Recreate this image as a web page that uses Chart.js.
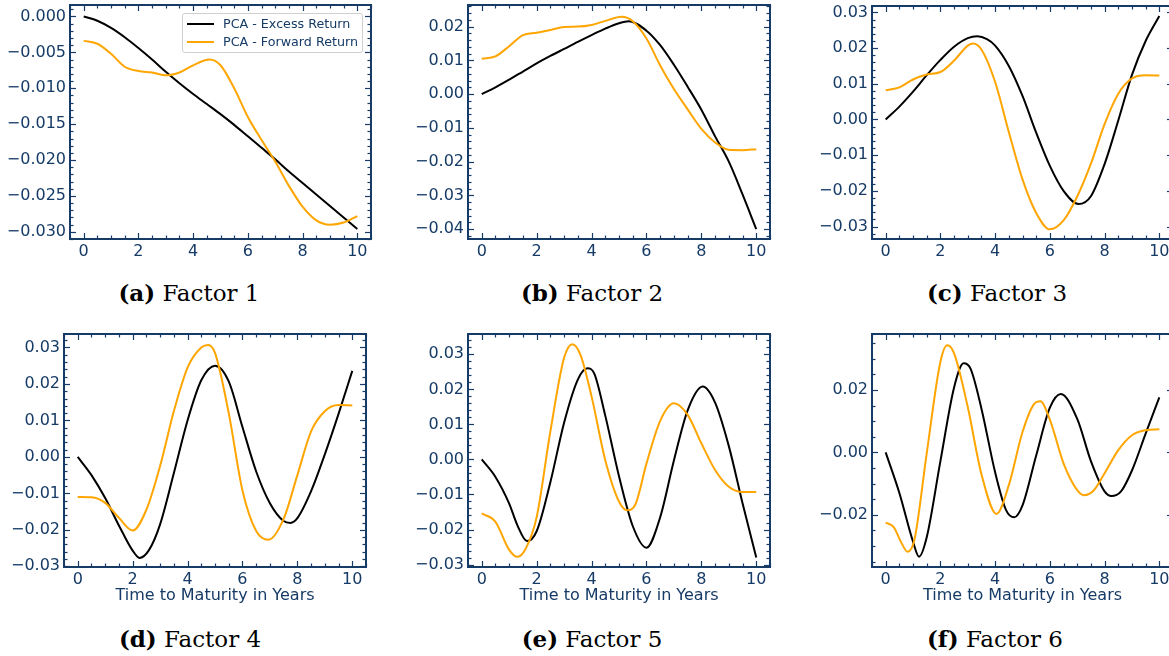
<!DOCTYPE html>
<html>
<head>
<meta charset="utf-8">
<script src="https://cdn.jsdelivr.net/npm/chart.js@4.4.1/dist/chart.umd.min.js"></script>
<style>
html,body{margin:0;padding:0;background:#fff;overflow:hidden;width:1169px;height:656px;}
canvas{position:absolute;}
.cap{position:absolute;font-family:"DejaVu Serif",serif;font-size:23px;color:#000;white-space:nowrap;transform:translate(-50%,-50%);}
.cap b{font-weight:bold;}
#legend{position:absolute;left:182px;top:13px;width:181px;height:40px;box-sizing:border-box;border:1px solid #cfcfcf;border-radius:3px;background:rgba(255,255,255,0.85);font-family:"DejaVu Sans",sans-serif;font-size:12.7px;color:#163b66;}
#legend .row{position:absolute;left:0;height:16px;line-height:16px;}
#legend .sw{position:absolute;left:4px;top:7px;width:27px;height:2px;}
#legend .tx{position:absolute;left:40px;top:0;white-space:nowrap;}
</style>
</head>
<body>
<script>
// ---------------- DATA ----------------
const xTicks = [0, 2, 4, 6, 8, 10];
const xTickLabels = ['0', '2', '4', '6', '8', '10'];
const seriesNames = ['PCA - Excess Return', 'PCA - Forward Return'];
const captions = [['(a)', 'Factor 1'], ['(b)', 'Factor 2'], ['(c)', 'Factor 3'], ['(d)', 'Factor 4'], ['(e)', 'Factor 5'], ['(f)', 'Factor 6']];
const xAxisTitle = 'Time to Maturity in Years';

const f1_excess = [[0,0],[0.5,-0.0006],[1,-0.0016],[1.5,-0.0029],[2,-0.0044],[2.5,-0.0060],[3,-0.0077],[3.5,-0.0093],[4,-0.0108],[4.5,-0.0122],[5,-0.0136],[5.5,-0.0151],[6,-0.0167],[6.5,-0.0183],[7,-0.0199],[7.5,-0.0216],[8,-0.0232],[8.5,-0.0248],[9,-0.0264],[9.5,-0.0280],[10,-0.0296]];
const f1_forward = [[0,-0.0034],[0.5,-0.0038],[1,-0.0052],[1.5,-0.0070],[2,-0.0076],[2.5,-0.0078],[3,-0.0082],[3.5,-0.0078],[4,-0.0068],[4.6,-0.0060],[5,-0.0068],[5.5,-0.0100],[6,-0.0140],[6.5,-0.0172],[7,-0.0202],[7.5,-0.0236],[8,-0.0265],[8.5,-0.0284],[9,-0.0290],[9.5,-0.0287],[10,-0.0278]];
const f2_excess = [[0,0],[0.5,0.0020],[1,0.0043],[1.5,0.0067],[2,0.0091],[2.5,0.0113],[3,0.0134],[3.5,0.0155],[4,0.0175],[4.5,0.0194],[5,0.0210],[5.35,0.0216],[6,0.0188],[6.5,0.0145],[7,0.0087],[7.5,0.0022],[8,-0.0046],[8.5,-0.0125],[9,-0.0200],[9.5,-0.0297],[10,-0.0400]];
const f2_forward = [[0,0.0105],[0.5,0.0112],[1,0.0142],[1.5,0.0175],[2,0.0182],[2.5,0.0190],[3,0.0199],[3.5,0.0200],[4,0.0205],[4.5,0.0217],[5.1,0.0229],[5.5,0.0216],[6,0.0165],[6.5,0.0085],[7,0.0015],[7.5,-0.0045],[8,-0.0103],[8.5,-0.0143],[9,-0.0165],[9.5,-0.0166],[10,-0.0163]];
const f3_excess = [[0,0],[0.5,0.0036],[1,0.0078],[1.5,0.0124],[2,0.0167],[2.5,0.0204],[3,0.0228],[3.35,0.0233],[3.7,0.0225],[4,0.0207],[4.5,0.0150],[5,0.0066],[5.5,-0.0037],[6,-0.0130],[6.5,-0.0200],[7.05,-0.0237],[7.5,-0.0215],[8,-0.0125],[8.5,-0.0003],[9,0.0125],[9.5,0.0220],[10,0.0290]];
const f3_forward = [[0,0.0082],[0.5,0.0090],[1,0.0112],[1.5,0.0126],[2,0.0133],[2.5,0.0165],[3,0.0207],[3.2,0.0213],[3.5,0.0196],[4,0.0105],[4.5,-0.0035],[5,-0.0168],[5.5,-0.0262],[6,-0.0308],[6.5,-0.0283],[7,-0.0216],[7.5,-0.0124],[8,-0.0013],[8.5,0.0072],[9,0.0115],[9.5,0.0124],[10,0.0123]];
const f4_excess = [[0,0],[0.5,-0.0050],[1,-0.0113],[1.5,-0.0188],[2,-0.0257],[2.25,-0.0277],[2.6,-0.0255],[3,-0.0185],[3.5,-0.0045],[4,0.0100],[4.5,0.0210],[5,0.0250],[5.5,0.0207],[6,0.0082],[6.5,-0.0040],[7,-0.0127],[7.5,-0.0176],[7.75,-0.0181],[8,-0.0168],[8.5,-0.0094],[9,0.0007],[9.5,0.0118],[10,0.0236]];
const f4_forward = [[0,-0.0110],[0.5,-0.0111],[1,-0.0126],[1.5,-0.0167],[2,-0.0202],[2.5,-0.0145],[3,-0.0025],[3.5,0.0125],[4,0.0245],[4.5,0.0300],[4.75,0.0307],[5,0.0285],[5.5,0.0120],[6,-0.0092],[6.5,-0.0203],[6.95,-0.0227],[7.5,-0.0170],[8,-0.0050],[8.5,0.0070],[9,0.0125],[9.5,0.0142],[10,0.0141]];
const f5_excess = [[0,0],[0.5,-0.0050],[1,-0.0126],[1.3,-0.0188],[1.65,-0.0233],[2,-0.0205],[2.5,-0.0065],[3,0.0105],[3.5,0.0228],[3.85,0.0260],[4.1,0.0245],[4.5,0.0125],[5,-0.0048],[5.5,-0.0190],[6,-0.0252],[6.5,-0.0165],[7,-0.0003],[7.5,0.0140],[8.05,0.0208],[8.5,0.0162],[9,0.0038],[9.5,-0.0125],[10,-0.0280]];
const f5_forward = [[0,-0.0154],[0.5,-0.0178],[1,-0.0258],[1.3,-0.0278],[1.6,-0.0255],[2,-0.0165],[2.5,0.0080],[3,0.0290],[3.3,0.0329],[3.6,0.0298],[4,0.0180],[4.5,-0.0002],[5,-0.0120],[5.3,-0.0145],[5.6,-0.0128],[6,-0.0012],[6.5,0.0110],[7,0.0160],[7.5,0.0127],[8,0.0046],[8.5,-0.0030],[9,-0.0078],[9.5,-0.0093],[10,-0.0093]];
const f6_excess = [[0,0],[0.5,-0.0130],[1,-0.0286],[1.22,-0.0334],[1.5,-0.0272],[2,-0.0028],[2.5,0.0208],[2.85,0.0285],[3.1,0.0268],[3.5,0.0140],[4,-0.0064],[4.4,-0.0185],[4.7,-0.0208],[5,-0.0170],[5.5,-0.0010],[6,0.0143],[6.4,0.0187],[7,0.0107],[7.5,-0.0028],[8,-0.0125],[8.25,-0.0140],[8.6,-0.0125],[9,-0.0058],[9.5,0.0060],[10,0.0176]];
const f6_forward = [[0,-0.0225],[0.3,-0.0240],[0.55,-0.0285],[0.8,-0.0318],[1.05,-0.0280],[1.5,-0.0003],[2,0.0290],[2.25,0.0343],[2.5,0.0317],[3,0.0145],[3.5,-0.0070],[4.05,-0.0197],[4.5,-0.0105],[5,0.0065],[5.4,0.0152],[5.65,0.0164],[6,0.0105],[6.5,-0.0035],[7,-0.0121],[7.25,-0.0137],[7.6,-0.0122],[8,-0.0067],[8.5,0.0007],[9,0.0055],[9.5,0.0071],[10,0.0074]];

const f1_yTicks = [0, -0.005, -0.01, -0.015, -0.02, -0.025, -0.03];
const f1_yTickLabels = ['0.000', '\u22120.005', '\u22120.010', '\u22120.015', '\u22120.020', '\u22120.025', '\u22120.030'];
const f2_yTicks = [0.02, 0.01, 0, -0.01, -0.02, -0.03, -0.04];
const f2_yTickLabels = ['0.02', '0.01', '0.00', '\u22120.01', '\u22120.02', '\u22120.03', '\u22120.04'];
const f345_yTicks = [0.03, 0.02, 0.01, 0, -0.01, -0.02, -0.03];
const f345_yTickLabels = ['0.03', '0.02', '0.01', '0.00', '\u22120.01', '\u22120.02', '\u22120.03'];
const f6_yTicks = [0.02, 0, -0.02];
const f6_yTickLabels = ['0.02', '0.00', '\u22120.02'];

// ---------------- STYLE / LAYOUT ----------------
const NAVY = '#163b66';
const panels = [
  {ex: f1_excess, fw: f1_forward, yt: f1_yTicks, yl: f1_yTickLabels, ymin: -0.0310, ymax: 0.0016, minorY: 0.001, L: 70, T: 5, R: 371, B: 239, bottomRow: false},
  {ex: f2_excess, fw: f2_forward, yt: f2_yTicks, yl: f2_yTickLabels, ymin: -0.0429, ymax: 0.0264, minorY: 0.002, L: 468, T: 5, R: 770, B: 239, bottomRow: false},
  {ex: f3_excess, fw: f3_forward, yt: f345_yTicks, yl: f345_yTickLabels, ymin: -0.0335, ymax: 0.0318, minorY: 0.002, L: 872, T: 6, R: 1173, B: 239, bottomRow: false},
  {ex: f4_excess, fw: f4_forward, yt: f345_yTicks, yl: f345_yTickLabels, ymin: -0.0302, ymax: 0.0337, minorY: 0.002, L: 64, T: 334, R: 366, B: 567, bottomRow: true},
  {ex: f5_excess, fw: f5_forward, yt: f345_yTicks, yl: f345_yTickLabels, ymin: -0.0307, ymax: 0.0358, minorY: 0.002, L: 468, T: 334, R: 770, B: 567, bottomRow: true},
  {ex: f6_excess, fw: f6_forward, yt: f6_yTicks, yl: f6_yTickLabels, ymin: -0.0367, ymax: 0.0379, minorY: 0.005, L: 872, T: 334, R: 1173, B: 567, bottomRow: true}
];
const capPos = [[189, 292], [592, 292], [997, 292], [190, 638], [592, 638], [995, 638]];

const framePlugin = {
  id: 'frame',
  afterDatasetsDraw(chart, args, opts) {
    const {ctx, chartArea: {left, top, right, bottom}, scales: {x, y}} = chart;
    ctx.save();
    ctx.strokeStyle = NAVY;
    ctx.lineWidth = 1.2;
    const seg = (x1, y1, x2, y2) => { ctx.beginPath(); ctx.moveTo(x1, y1); ctx.lineTo(x2, y2); ctx.stroke(); };
    const isMajor = (v, majors) => majors.some(m => Math.abs(m - v) < 1e-9);
    const xt = (v, len) => { const p = Math.round(x.getPixelForValue(v)) + 0.5; seg(p, bottom, p, bottom - len); seg(p, top, p, top + len); };
    const yt = (v, len) => { const p = Math.round(y.getPixelForValue(v)) + 0.5; seg(left, p, left + len, p); seg(right, p, right - len, p); };
    xTicks.forEach(v => xt(v, 6));
    for (let k = Math.ceil(x.min / opts.minorX); k * opts.minorX <= x.max; k++) {
      const v = k * opts.minorX; if (!isMajor(v, xTicks)) xt(v, 3.5);
    }
    opts.yt.forEach(v => yt(v, 6));
    for (let k = Math.ceil(y.min / opts.minorY); k * opts.minorY <= y.max + 1e-12; k++) {
      const v = k * opts.minorY; if (!isMajor(v, opts.yt)) yt(v, 3.5);
    }
    ctx.lineWidth = 2;
    ctx.strokeRect(left, top, right - left, bottom - top);
    ctx.restore();
  }
};

const YW = 75, PT = 10, PR = 10;
panels.forEach((p, i) => {
  const xh = p.bottomRow ? 40 : 30;
  const cv = document.createElement('canvas');
  const W = p.R - p.L + YW + PR, H = p.B - p.T + PT + xh;
  cv.width = W; cv.height = H;
  cv.style.left = (p.L - YW) + 'px'; cv.style.top = (p.T - PT) + 'px';
  cv.style.width = W + 'px'; cv.style.height = H + 'px';
  document.body.appendChild(cv);
  const toXY = arr => arr.map(d => ({x: d[0], y: d[1]}));
  new Chart(cv, {
    type: 'line',
    data: {
      datasets: [
        {label: seriesNames[0], data: toXY(p.ex), borderColor: '#000000', borderWidth: 2, pointRadius: 0, cubicInterpolationMode: 'monotone', order: 1, fill: false},
        {label: seriesNames[1], data: toXY(p.fw), borderColor: '#FFA500', borderWidth: 2, pointRadius: 0, cubicInterpolationMode: 'monotone', order: 0, fill: false}
      ]
    },
    options: {
      responsive: false, animation: false, devicePixelRatio: 1,
      layout: {padding: {top: PT, right: PR, left: 0, bottom: 0}},
      plugins: {legend: {display: false}, tooltip: {enabled: false}, frame: {minorX: 0.5, minorY: p.minorY, yt: p.yt}},
      events: [],
      scales: {
        x: {
          type: 'linear', min: -0.5, max: 10.5,
          grid: {display: false, drawTicks: false}, border: {display: false},
          afterBuildTicks: s => { s.ticks = xTicks.map(v => ({value: v})); },
          afterFit: s => { s.height = xh; s.paddingLeft = 0; s.paddingRight = 0; },
          ticks: {padding: 3, color: NAVY, font: {family: 'DejaVu Sans', size: 16}, maxRotation: 0, autoSkip: false,
                  callback: (v) => xTickLabels[xTicks.indexOf(v)]},
          title: {display: p.bottomRow, text: xAxisTitle, color: NAVY, font: {family: 'DejaVu Sans', size: 16}, padding: {top: 0, bottom: 2}}
        },
        y: {
          type: 'linear', min: p.ymin, max: p.ymax,
          grid: {display: false, drawTicks: false}, border: {display: false},
          afterBuildTicks: s => { s.ticks = p.yt.map(v => ({value: v})); },
          afterFit: s => { s.width = YW; s.paddingTop = 0; s.paddingBottom = 0; },
          ticks: {padding: 4, color: NAVY, font: {family: 'DejaVu Sans', size: 16}, autoSkip: false,
                  callback: (v) => p.yl[p.yt.indexOf(v)]}
        }
      }
    },
    plugins: [framePlugin]
  });
});

captions.forEach((c, i) => {
  const d = document.createElement('div');
  d.className = 'cap';
  d.style.left = capPos[i][0] + 'px'; d.style.top = capPos[i][1] + 'px';
  d.innerHTML = '<b>' + c[0] + '</b> ' + c[1];
  document.body.appendChild(d);
});

const lg = document.createElement('div');
lg.id = 'legend';
lg.innerHTML = seriesNames.map((n, i) =>
  '<div class="row" style="top:' + (i === 0 ? 2 : 20) + 'px"><div class="sw" style="background:' + (i === 0 ? '#000' : '#FFA500') + '"></div><div class="tx">' + n + '</div></div>').join('');
document.body.appendChild(lg);
</script>
</body>
</html>
